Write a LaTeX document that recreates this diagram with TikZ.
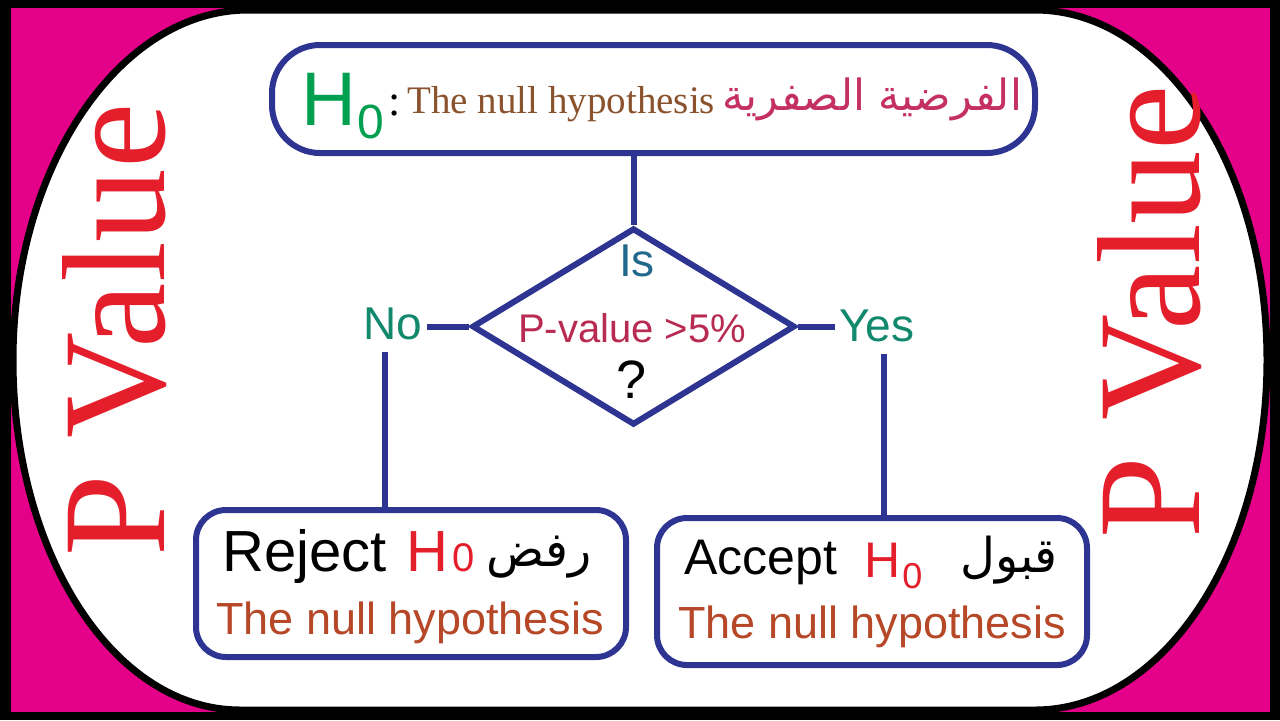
\documentclass[tikz,border=0pt]{standalone}
\usepackage{fontspec}
\setmainfont{Liberation Sans}
\newfontfamily\serifface{Liberation Serif}
\newfontfamily\arabicface[Script=Arabic]{DejaVu Sans}
\TeXXeTstate=1
\usetikzlibrary{shapes.geometric}
\definecolor{pinkbg}{RGB}{229,0,138}
\definecolor{boxblue}{RGB}{45,52,145}
\definecolor{pvred}{RGB}{228,30,42}
\definecolor{hgreen}{RGB}{0,160,80}
\definecolor{teal}{RGB}{18,136,108}
\definecolor{isblue}{RGB}{32,104,140}
\definecolor{crimson}{RGB}{184,42,82}
\definecolor{olivebrown}{RGB}{138,82,45}
\definecolor{arabpink}{RGB}{196,48,96}
\definecolor{sienna}{RGB}{182,72,40}
\newcommand{\PValFont}{\fontsize{73.5}{80}\selectfont\serifface}
\newcommand{\TopHFont}{\fontsize{38}{42}\selectfont}
\newcommand{\TopSubFont}{\fontsize{24}{28}\selectfont}
\newcommand{\TopSerifFont}{\fontsize{19.5}{22}\selectfont\serifface}
\newcommand{\LabelFont}{\fontsize{23}{26}\selectfont}
\newcommand{\LineOneFont}{\fontsize{29}{32}\selectfont}
\newcommand{\LineTwoFont}{\fontsize{22.5}{26}\selectfont}

\begin{document}
\begin{tikzpicture}[x=0.5pt,y=-0.5pt,
    bluebox/.style={draw=boxblue,line width=3pt,fill=white,inner sep=0pt},
    link/.style={draw=boxblue,line width=3pt},
    lbl/.style={inner sep=2pt}]
  \useasboundingbox (0,0) rectangle (1280,720);
  % frame and white stadium
  \fill[black] (0,0) rectangle (1280,720);
  \fill[pinkbg] (11,8) rectangle (1270,712);
  \draw[line width=3.5pt,fill=white] (248,10) -- (1035,10)
    .. controls (1163,10) and (1267,166) .. (1267,360)
    .. controls (1267,554) and (1163,710) .. (1035,710) -- (240,710)
    .. controls (114,710) and (13,554) .. (13,360)
    .. controls (13,166) and (120,10) .. (248,10) -- cycle;

  \node[text=pvred,font=\PValFont,rotate=90] (pvleft) at (115,330) {P Value};
  \node[text=pvred,font=\PValFont,rotate=90] (pvright) at (1150,312) {P Value};

  % null hypothesis box
  \node[bluebox,rounded corners=24pt,minimum width=381.5pt,minimum height=54pt] (hypbox) at (653.5,99) {};
  \node[text=hgreen,font=\TopHFont,inner sep=0pt,anchor=base west] (toph) at (301,125) {H};
  \node[text=hgreen,font=\TopSubFont,inner sep=0pt,anchor=base west] (topsub) at (357,138) {0};
  \node[font=\fontsize{22}{24}\selectfont\serifface,inner sep=0pt,anchor=base west] (colon) at (388,115) {:};
  \node[text=olivebrown,font=\TopSerifFont,inner sep=0pt,anchor=base west] (topeng) at (407,113) {The null hypothesis};
  \node[text=arabpink,font=\fontsize{21.5}{26}\selectfont,inner sep=0pt,anchor=base west] (toparab) at (722,110)
    {\arabicface\beginR الفرضية الصفرية\endR};

  % decision diamond
  \node[draw=boxblue,line width=3pt,diamond,minimum width=161.5pt,minimum height=98.5pt,inner sep=0pt] (dia) at (633.5,326.5) {};
  \node[text=isblue,font=\LabelFont,lbl] (istxt) at (637,261) {Is};
  \node[text=crimson,font=\fontsize{20}{24}\selectfont,lbl] (pvtxt) at (632,328) {P-value >5\%};
  \node[font=\fontsize{27}{30}\selectfont,lbl] (qmark) at (632,380) {?};
  \node[text=teal,font=\LabelFont,lbl] (no) at (393,324) {No};
  \node[text=teal,font=\LabelFont,lbl] (yes) at (877,326) {Yes};

  % result boxes
  \node[bluebox,rounded corners=15pt,minimum width=215pt,minimum height=73.5pt] (rejbox) at (411,583.5) {};
  \node[bluebox,rounded corners=15pt,minimum width=215pt,minimum height=73.5pt] (accbox) at (872,591.5) {};

  \node[font=\LineOneFont,inner sep=0pt,anchor=base west] (rejword) at (222,571) {Reject};
  \node[text=pvred,font=\LineOneFont,inner sep=0pt,anchor=base west] (rejh) at (406,571) {H};
  \node[text=pvred,font=\fontsize{20}{22}\selectfont,inner sep=0pt,anchor=base west] (rejsub) at (452,571) {0};
  \node[font=\fontsize{24}{28}\selectfont,inner sep=0pt,anchor=base west] (rejarab) at (486,566)
    {\arabicface\beginR رفض\endR};
  \node[text=sienna,font=\LineTwoFont,inner sep=0pt,anchor=base] (rejnull) at (410,634) {The null hypothesis};

  \node[font=\fontsize{25}{28}\selectfont,inner sep=0pt,anchor=base west] (accword) at (684,574) {Accept};
  \node[text=pvred,font=\fontsize{25}{28}\selectfont,inner sep=0pt,anchor=base west] (acch) at (864,577) {H};
  \node[text=pvred,font=\fontsize{18}{20}\selectfont,inner sep=0pt,anchor=base west] (accsub) at (902,588) {0};
  \node[font=\fontsize{24}{28}\selectfont,inner sep=0pt,anchor=base west] (accarab) at (960,572)
    {\arabicface\beginR قبول\endR};
  \node[text=sienna,font=\LineTwoFont,inner sep=0pt,anchor=base] (accnull) at (872,638) {The null hypothesis};

  % connectors
  \coordinate (notail) at ([xshift=-4pt,yshift=-4pt]no.south);
  \coordinate (yestail) at ([xshift=3.5pt,yshift=-4pt]yes.south);
  \draw[link] (dia.north |- hypbox.south) -- (dia.north);
  \draw[link] (no.east |- dia.west) -- (dia.west);
  \draw[link] (dia.east) -- (yes.west |- dia.east);
  \draw[link] (notail) -- (notail |- rejbox.north);
  \draw[link] (yestail) -- (yestail |- accbox.north);
\end{tikzpicture}
\end{document}
